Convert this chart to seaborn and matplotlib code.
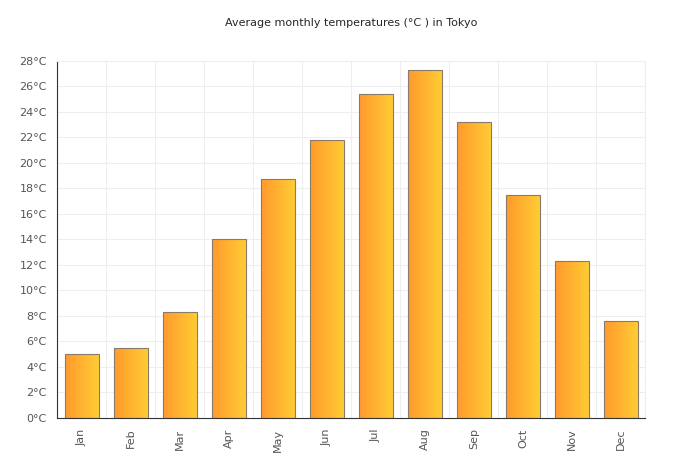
import numpy as np
import matplotlib
matplotlib.use("Agg")
import matplotlib.pyplot as plt
import seaborn as sns
from matplotlib.colors import LinearSegmentedColormap

months = ["Jan", "Feb", "Mar", "Apr", "May", "Jun", "Jul", "Aug", "Sep", "Oct", "Nov", "Dec"]
temps = [5.0, 5.5, 8.3, 14.0, 18.7, 21.8, 25.4, 27.3, 23.2, 17.5, 12.3, 7.6]
yticks = list(range(0, 29, 2))

plt.rcParams["font.family"] = "DejaVu Sans Mono"
sns.set_style("white")
fig = plt.figure(figsize=(7, 4.75), dpi=100)
ax = fig.add_axes([0.082, 0.12, 0.840, 0.752])

sns.barplot(x=months, y=temps, ax=ax, width=0.68, color="#ffaa33",
            edgecolor="#8a7a6a", linewidth=0.8, zorder=2)

# left-to-right orange gradient inside each bar
cmap = LinearSegmentedColormap.from_list("og", ["#ff9a2e", "#ffcc33"])
grad = np.linspace(0, 1, 64).reshape(1, -1)
for p in ax.patches:
    x0, y0 = p.get_x(), p.get_y()
    im = ax.imshow(grad, cmap=cmap, aspect="auto", zorder=2.5,
                   extent=[x0, x0 + p.get_width(), y0, y0 + p.get_height()])
    im.set_clip_path(p)
    p.set_facecolor("none")
    p.set_zorder(3)

ax.set_xlim(-0.5, 11.5)
ax.set_ylim(0, 28)
ax.set_yticks(yticks)
ax.set_yticklabels([f"{t}°C" for t in yticks], fontsize=8, color="#555555")
ax.tick_params(axis="x", labelrotation=90, labelsize=8, labelcolor="#555555", length=4, color="#999999")
ax.tick_params(axis="y", length=4, color="#999999")
ax.set_xticks(np.arange(-0.5, 12, 1), minor=True)
ax.grid(True, which="minor", axis="x", color="#eeeeee", lw=0.8, zorder=0)
ax.grid(True, which="major", axis="y", color="#eeeeee", lw=0.8, zorder=0)
for s in ["top", "right"]:
    ax.spines[s].set_color("#eeeeee")
ax.spines["left"].set_color("#333333")
ax.spines["bottom"].set_color("#333333")
ax.set_title("Average monthly temperatures (°C ) in Tokyo", fontsize=8, pad=25)

fig.savefig("out.png", dpi=100)
